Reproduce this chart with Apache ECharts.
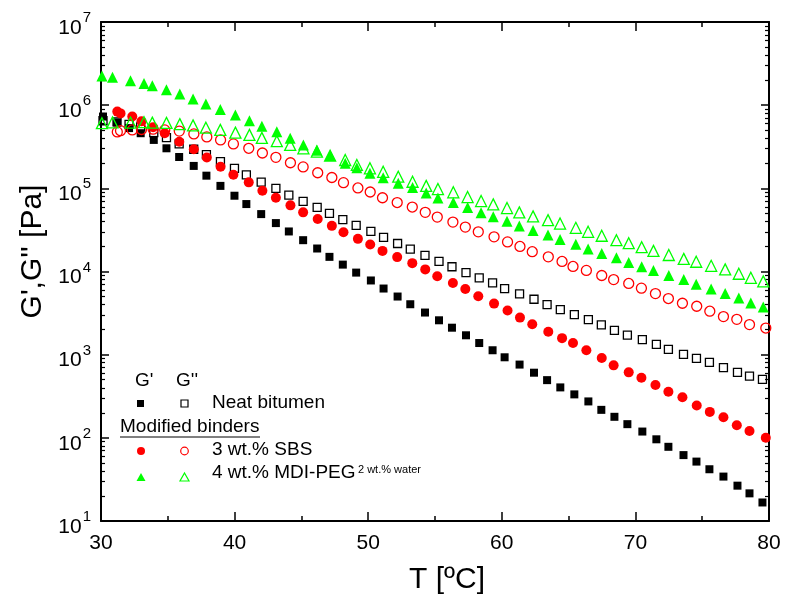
<!DOCTYPE html>
<html>
<head>
<meta charset="utf-8">
<script src="https://cdn.jsdelivr.net/npm/echarts@6/dist/echarts.min.js"></script>
<style>html,body{margin:0;padding:0;background:#fff}#c{width:788px;height:601px}</style>
</head>
<body>
<div id="c"></div>
<script>
// ---- Data (T in °C, moduli in Pa) ----
const tNeat = [30.15, 31.2, 32.1, 32.97, 33.95, 34.9, 35.85, 36.94, 37.89, 38.94, 39.99, 40.88, 41.99, 43.09, 44.06, 45.13, 46.18, 47.1, 48.1, 49.1, 50.2, 51.15, 52.2, 53.15, 54.25, 55.3, 56.27, 57.32, 58.31, 59.31, 60.21, 61.33, 62.41, 63.39, 64.38, 65.43, 66.48, 67.45, 68.43, 69.4, 70.52, 71.57, 72.47, 73.6, 74.57, 75.54, 76.59, 77.64, 78.54, 79.51];
const gpNeat = [7.3e5, 6.2e5, 5.3e5, 4.6e5, 3.82e5, 3.03e5, 2.38e5, 1.86e5, 1.42e5, 1.07e5, 8.15e4, 6.47e4, 4.9e4, 3.82e4, 3.03e4, 2.38e4, 1.89e4, 1.5e4, 1.21e4, 9.7e3, 7.8e3, 6.24e3, 5.0e3, 4.04e3, 3.21e3, 2.59e3, 2.11e3, 1.71e3, 1.38e3, 1.13e3, 930, 760, 607, 494, 404, 333, 274, 217, 179, 146, 119, 96, 78, 62, 51.8, 41.9, 34.2, 26.6, 21.5, 16.7];
const gppNeat = [6.5e5, 6.3e5, 5.87e5, 5.48e5, 4.68e5, 4.07e5, 3.42e5, 2.95e5, 2.54e5, 2.09e5, 1.74e5, 1.45e5, 1.19e5, 1.0e5, 8.3e4, 6.97e4, 5.9e4, 5.0e4, 4.21e4, 3.58e4, 3.03e4, 2.57e4, 2.17e4, 1.86e4, 1.56e4, 1.32e4, 1.14e4, 9.72e3, 8.4e3, 7.3e3, 6.24e3, 5.37e3, 4.64e3, 4.0e3, 3.48e3, 3.03e3, 2.64e3, 2.28e3, 1.96e3, 1.72e3, 1.52e3, 1.33e3, 1.16e3, 1.01e3, 904, 810, 697, 612, 552, 504];

const tSBS = [31.22, 31.46, 32.34, 33.03, 33.9, 34.77, 35.86, 36.95, 37.92, 38.95, 39.91, 41.06, 42.08, 43.09, 44.18, 45.13, 46.22, 47.28, 48.15, 49.23, 50.15, 51.07, 52.17, 53.3, 54.27, 55.17, 56.34, 57.27, 58.24, 59.42, 60.43, 61.36, 62.28, 63.48, 64.51, 65.33, 66.33, 67.48, 68.37, 69.5, 70.45, 71.5, 72.47, 73.52, 74.59, 75.57, 76.59, 77.59, 78.54, 79.76];
const gpSBS = [8.37e5, 7.96e5, 7.29e5, 6.41e5, 5.43e5, 4.6e5, 3.64e5, 2.95e5, 2.35e5, 1.82e5, 1.46e5, 1.18e5, 9.35e4, 7.7e4, 6.24e4, 5.14e4, 4.27e4, 3.54e4, 2.97e4, 2.47e4, 2.11e4, 1.77e4, 1.49e4, 1.26e4, 1.06e4, 8.77e3, 7.29e3, 6.17e3, 5.04e3, 4.11e3, 3.39e3, 2.79e3, 2.32e3, 1.89e3, 1.58e3, 1.38e3, 1.13e3, 910, 744, 613, 529, 431, 358, 308, 245, 205, 177, 142, 121, 100];
const gppSBS = [4.77e5, 4.94e5, 5.04e5, 5.1e5, 5.14e5, 5.04e5, 4.88e5, 4.51e5, 4.15e5, 3.82e5, 3.42e5, 3.03e5, 2.66e5, 2.36e5, 2.03e5, 1.81e5, 1.54e5, 1.35e5, 1.17e5, 1.01e5, 9.03e4, 7.7e4, 6.75e4, 5.96e4, 5.15e4, 4.51e4, 3.93e4, 3.42e4, 3.0e4, 2.61e4, 2.27e4, 2.0e4, 1.73e4, 1.5e4, 1.32e4, 1.15e4, 1.03e4, 8.95e3, 8.0e3, 7.18e3, 6.3e3, 5.43e3, 4.73e3, 4.15e3, 3.82e3, 3.33e3, 2.87e3, 2.66e3, 2.3e3, 2.09e3];

const tMDI = [30.07, 30.86, 32.21, 33.22, 33.84, 34.9, 35.9, 36.89, 37.85, 38.93, 40.06, 41.11, 42.04, 43.16, 44.16, 45.15, 46.16, 47.15, 48.28, 49.15, 50.13, 51.12, 52.25, 53.32, 54.34, 55.22, 56.37, 57.44, 58.45, 59.36, 60.39, 61.31, 62.34, 63.46, 64.36, 65.54, 66.46, 67.48, 68.58, 69.5, 70.47, 71.35, 72.5, 73.62, 74.55, 75.67, 76.72, 77.74, 78.64, 79.57];
const gpMDI = [2.25e6, 2.17e6, 1.96e6, 1.82e6, 1.71e6, 1.53e6, 1.36e6, 1.19e6, 1.03e6, 8.85e5, 7.64e5, 6.51e5, 5.58e5, 4.8e5, 4.0e5, 3.33e5, 2.87e5, 2.48e5, 2.0e5, 1.77e5, 1.52e5, 1.34e5, 1.15e5, 1.02e5, 8.77e4, 7.64e4, 6.75e4, 5.88e4, 5.09e4, 4.55e4, 4.02e4, 3.53e4, 3.12e4, 2.74e4, 2.43e4, 2.12e4, 1.87e4, 1.65e4, 1.46e4, 1.28e4, 1.14e4, 1.03e4, 8.95e3, 8.0e3, 7.03e3, 6.17e3, 5.43e3, 4.81e3, 4.19e3, 3.74e3];
const gppMDI = [6.07e5, 6.21e5, 6.17e5, 6.24e5, 6.17e5, 6.12e5, 5.92e5, 5.71e5, 5.36e5, 5.04e5, 4.68e5, 4.39e5, 4.04e5, 3.69e5, 3.33e5, 3.03e5, 2.77e5, 2.47e5, 2.19e5, 1.91e5, 1.74e5, 1.58e5, 1.38e5, 1.2e5, 1.07e5, 9.8e4, 8.96e4, 7.85e4, 7.03e4, 6.41e4, 5.79e4, 5.14e4, 4.6e4, 4.15e4, 3.77e4, 3.35e4, 3.0e4, 2.69e4, 2.38e4, 2.19e4, 1.96e4, 1.77e4, 1.58e4, 1.42e4, 1.31e4, 1.17e4, 1.06e4, 9.4e3, 8.4e3, 7.6e3];

const xMin = 30, xMax = 80, xStep = 10;
const yMin = 10, yMax = 1e7;
const legendTitles = ["G'", "G''"];
const legendNames = ["Neat bitumen", "Modified binders", "3 wt.% SBS", "4 wt.% MDI-PEG", "2 wt.% water"];
const xTitle = "T [ºC]";
const yTitle = "G',G'' [Pa]";

// ---- Build chart ----
const FONT = "'Liberation Sans', Arial, Helvetica, sans-serif";
const pairs = (t, v) => t.map((x, i) => [x, v[i]]);

// minor tick positions on the log axis, expressed in decades (log10 units)
const minorDecades = [];
for (let d = 1; d < 7; d++) for (let k = 2; k <= 9; k++) minorDecades.push(d + Math.log10(k));

function scatter(name, t, v, symbol, size, color, hollow) {
  return {
    name, type: 'scatter', xAxisIndex: 0, yAxisIndex: 0,
    data: pairs(t, v), symbol, symbolSize: size,
    itemStyle: hollow ? { color: 'rgba(255,255,255,0)', borderColor: color, borderWidth: 1.3, opacity: 1 }
                      : { color: color, borderWidth: 0, opacity: 1 },
    emphasis: { disabled: true }, silent: true
  };
}

const axLine = { show: true, lineStyle: { color: '#000', width: 2 } };

const option = {
  animation: false,
  backgroundColor: '#fff',
  grid: { left: 101, right: 19, top: 22, bottom: 80, containLabel: false },
  xAxis: [
    { type: 'value', position: 'bottom', min: xMin, max: xMax, interval: xStep,
      axisLine: axLine, splitLine: { show: false },
      axisTick: { inside: true, length: 9, lineStyle: { color: '#000', width: 1.5 } },
      minorTick: { show: true, splitNumber: 2, length: 5, lineStyle: { color: '#000', width: 1.5 } },
      axisLabel: { margin: 12, fontFamily: FONT, fontSize: 21, color: '#000' },
      name: xTitle, nameLocation: 'middle', nameGap: 44,
      nameTextStyle: { fontFamily: FONT, fontSize: 30, color: '#000', padding: [0, 0, 0, 24] } },
    { type: 'value', position: 'top', min: xMin, max: xMax, interval: xStep,
      axisLine: axLine, splitLine: { show: false },
      axisTick: { inside: true, length: 9, lineStyle: { color: '#000', width: 1.5 } },
      minorTick: { show: true, splitNumber: 2, length: 5, lineStyle: { color: '#000', width: 1.5 } },
      axisLabel: { show: false } }
  ],
  yAxis: [
    { type: 'log', logBase: 10, position: 'left', min: yMin, max: yMax,
      axisLine: axLine, splitLine: { show: false },
      axisTick: { inside: true, length: 8, lineStyle: { color: '#000', width: 1.5 } },
      axisLabel: { margin: 10, formatter: v => '{b|10}{s|' + Math.round(Math.log10(v)) + '}',
        rich: { b: { fontFamily: FONT, fontSize: 21, color: '#000', padding: [12, 0, 0, 0] },
                s: { fontFamily: FONT, fontSize: 15, color: '#000', padding: [0, 0, 8, 1] } } },
      name: yTitle, nameLocation: 'middle', nameGap: 52, nameRotate: 90,
      nameTextStyle: { fontFamily: FONT, fontSize: 30, color: '#000', padding: [0, 0, 0, 40] } },
    { type: 'value', position: 'left', min: 1, max: 7,
      axisLine: { show: false }, splitLine: { show: false }, axisLabel: { show: false },
      axisTick: { inside: true, length: 4, customValues: minorDecades, lineStyle: { color: '#000', width: 1.2 } } },
    { type: 'log', logBase: 10, position: 'right', min: yMin, max: yMax,
      axisLine: axLine, splitLine: { show: false }, axisLabel: { show: false },
      axisTick: { inside: true, length: 8, lineStyle: { color: '#000', width: 1.5 } } },
    { type: 'value', position: 'right', min: 1, max: 7,
      axisLine: { show: false }, splitLine: { show: false }, axisLabel: { show: false },
      axisTick: { inside: true, length: 4, customValues: minorDecades, lineStyle: { color: '#000', width: 1.2 } } }
  ],
  series: [
    scatter("Neat G'", tNeat, gpNeat, 'rect', 8, '#000', false),
    scatter("Neat G''", tNeat, gppNeat, 'rect', 8, '#000', true),
    scatter("SBS G'", tSBS, gpSBS, 'circle', 10, '#ff0000', false),
    scatter("SBS G''", tSBS, gppSBS, 'circle', 10, '#ff0000', true),
    scatter("MDI G'", tMDI, gpMDI, 'triangle', 11, '#00ff00', false),
    scatter("MDI G''", tMDI, gppMDI, 'triangle', 11, '#00ff00', true)
  ],
  graphic: [
    { type: 'text', left: 135, top: 371, style: { text: legendTitles[0], font: '19px ' + FONT, fill: '#000' } },
    { type: 'text', left: 176, top: 371, style: { text: legendTitles[1], font: '19px ' + FONT, fill: '#000' } },
    { type: 'rect', shape: { x: 137, y: 400, width: 7, height: 7 }, style: { fill: '#000' } },
    { type: 'rect', shape: { x: 181, y: 400, width: 7, height: 7 }, style: { fill: 'none', stroke: '#000', lineWidth: 1.2 } },
    { type: 'text', left: 212, top: 393, style: { text: legendNames[0], font: '19px ' + FONT, fill: '#000' } },
    { type: 'text', left: 120, top: 417, style: { text: legendNames[1], font: '19px ' + FONT, fill: '#000' } },
    { type: 'line', shape: { x1: 120, y1: 437, x2: 260, y2: 437 }, style: { stroke: '#000', lineWidth: 1 } },
    { type: 'circle', shape: { cx: 141, cy: 451, r: 4 }, style: { fill: '#ff0000' } },
    { type: 'circle', shape: { cx: 184.5, cy: 451, r: 3.8 }, style: { fill: 'none', stroke: '#ff0000', lineWidth: 1.2 } },
    { type: 'text', left: 212, top: 440, style: { text: legendNames[2], font: '19px ' + FONT, fill: '#000' } },
    { type: 'polygon', shape: { points: [[141, 473], [145.5, 481], [136.5, 481]] }, style: { fill: '#00ff00' } },
    { type: 'polygon', shape: { points: [[184.5, 473], [189, 481], [180, 481]] }, style: { fill: 'none', stroke: '#00ff00', lineWidth: 1.2 } },
    { type: 'text', left: 212, top: 463, style: { text: legendNames[3], font: '19px ' + FONT, fill: '#000' } },
    { type: 'text', left: 358, top: 464, style: { text: legendNames[4], font: '11px ' + FONT, fill: '#000' } }
  ]
};

const chart = echarts.init(document.getElementById('c'), null, { renderer: 'canvas' });
chart.setOption(option);
</script>
</body>
</html>
